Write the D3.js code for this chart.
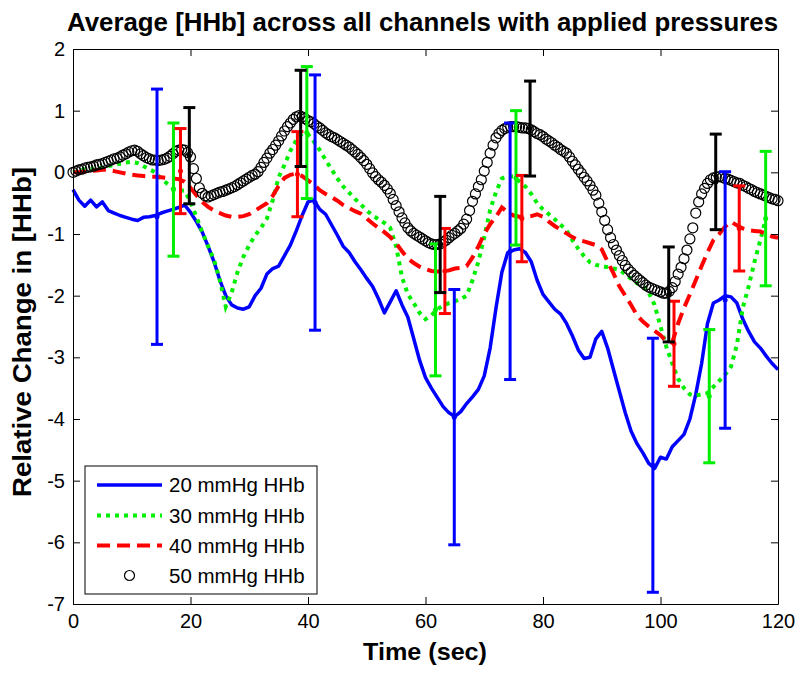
<!DOCTYPE html>
<html>
<head>
<meta charset="utf-8">
<script src="https://cdn.jsdelivr.net/npm/d3@7/dist/d3.min.js"></script>
<style>
  body { margin: 0; background: #fff; }
  text { font-family: "Liberation Sans", Arial, Helvetica, sans-serif; fill: #000; }
</style>
</head>
<body>
<script>
// ---------------- DATA ----------------
const titleText = "Average [HHb] across all channels with applied pressures";
const xLabel = "Time (sec)";
const yLabel = "Relative Change in [HHb]";
const xTicks = [0, 20, 40, 60, 80, 100, 120];
const yTicks = [2, 1, 0, -1, -2, -3, -4, -5, -6, -7];
const seriesNames = ["20 mmHg HHb", "30 mmHg HHb", "40 mmHg HHb", "50 mmHg HHb"];

// line series sampled every 1 s starting at 0 s
const lineStart = 0, lineStep = 1;
const blue20 = [-0.28,-0.45,-0.55,-0.45,-0.56,-0.48,-0.62,-0.66,-0.70,-0.73,
 -0.76,-0.78,-0.73,-0.72,-0.70,-0.66,-0.63,-0.60,-0.57,-0.53,
 -0.65,-0.80,-0.97,-1.20,-1.45,-1.75,-2.00,-2.15,-2.20,-2.22,
 -2.18,-2.00,-1.88,-1.65,-1.56,-1.52,-1.35,-1.18,-0.95,-0.70,
 -0.48,-0.45,-0.60,-0.68,-0.85,-1.02,-1.20,-1.30,-1.45,-1.58,
 -1.72,-1.85,-2.05,-2.28,-2.10,-1.92,-2.15,-2.35,-2.70,-3.05,
 -3.33,-3.50,-3.65,-3.80,-3.90,-3.96,-3.88,-3.75,-3.64,-3.52,
 -3.30,-2.85,-2.20,-1.62,-1.30,-1.26,-1.24,-1.30,-1.45,-1.75,
 -1.98,-2.10,-2.22,-2.30,-2.45,-2.65,-2.88,-3.02,-3.00,-2.70,
 -2.58,-2.85,-3.20,-3.55,-3.90,-4.20,-4.40,-4.55,-4.72,-4.80,
 -4.62,-4.65,-4.45,-4.35,-4.25,-4.00,-3.60,-3.10,-2.45,-2.12,
 -2.07,-2.00,-2.02,-2.12,-2.38,-2.58,-2.75,-2.85,-2.98,-3.10,
 -3.20];
const green30 = [0.00,0.02,0.05,0.05,0.06,0.08,0.10,0.12,0.14,0.16,
 0.17,0.15,0.10,0.05,0.00,-0.10,-0.18,-0.26,-0.29,-0.30,
 -0.48,-0.72,-0.97,-1.20,-1.42,-1.75,-2.18,-1.95,-1.62,-1.37,
 -1.18,-1.02,-0.90,-0.75,-0.45,-0.08,0.12,0.35,0.52,0.63,
 0.62,0.50,0.36,0.20,0.05,-0.10,-0.23,-0.33,-0.43,-0.52,
 -0.62,-0.70,-0.76,-0.82,-0.90,-1.20,-1.70,-1.98,-2.12,-2.28,
 -2.38,-2.32,-2.22,-2.16,-2.12,-2.09,-2.06,-2.00,-1.75,-1.45,
 -1.05,-0.61,-0.32,-0.10,-0.06,-0.07,-0.15,-0.23,-0.35,-0.50,
 -0.60,-0.68,-0.76,-0.85,-0.94,-1.10,-1.24,-1.36,-1.46,-1.50,
 -1.52,-1.54,-1.56,-1.58,-1.65,-1.73,-1.80,-1.84,-1.95,-2.15,
 -2.50,-2.83,-3.10,-3.35,-3.50,-3.60,-3.62,-3.60,-3.58,-3.48,
 -3.38,-3.28,-3.15,-2.80,-2.20,-1.85,-1.45,-1.10,-0.72];
const red40 = [0.00,0.00,0.01,0.02,0.03,0.04,0.04,0.02,0.00,-0.02,
 -0.04,-0.05,-0.06,-0.07,-0.07,-0.08,-0.09,-0.10,-0.11,-0.15,
 -0.25,-0.37,-0.48,-0.56,-0.62,-0.66,-0.70,-0.72,-0.72,-0.71,
 -0.68,-0.62,-0.56,-0.50,-0.38,-0.22,-0.09,-0.04,-0.02,-0.06,
 -0.13,-0.20,-0.29,-0.35,-0.40,-0.46,-0.53,-0.58,-0.63,-0.67,
 -0.75,-0.83,-0.90,-0.97,-1.05,-1.15,-1.28,-1.40,-1.47,-1.53,
 -1.57,-1.60,-1.61,-1.61,-1.59,-1.56,-1.55,-1.52,-1.38,-1.20,
 -1.00,-0.84,-0.72,-0.57,-0.65,-0.70,-0.72,-0.72,-0.71,-0.68,
 -0.72,-0.80,-0.87,-0.93,-0.99,-1.05,-1.10,-1.12,-1.15,-1.18,
 -1.25,-1.45,-1.64,-1.85,-2.00,-2.15,-2.32,-2.42,-2.50,-2.57,
 -2.64,-2.74,-2.76,-2.45,-2.20,-1.98,-1.75,-1.52,-1.30,-1.10,
 -1.00,-0.88,-0.80,-0.86,-0.91,-0.94,-0.95,-0.96,-1.00,-1.04,
 -1.06];

// circle series sampled every 0.5 s starting at 0 s
const circStart = 0, circStep = 0.5;
const black50 = [0.00,0.02,0.04,0.05,0.07,0.08,0.09,0.10,0.12,0.13,
 0.14,0.16,0.18,0.20,0.22,0.23,0.25,0.28,0.30,0.33,
 0.35,0.36,0.34,0.30,0.27,0.24,0.22,0.20,0.20,0.19,
 0.20,0.21,0.23,0.26,0.30,0.34,0.36,0.37,0.36,0.32,
 0.25,0.06,-0.10,-0.25,-0.34,-0.38,-0.40,-0.38,-0.36,-0.34,
 -0.32,-0.31,-0.29,-0.27,-0.25,-0.23,-0.20,-0.17,-0.14,-0.11,
 -0.08,-0.05,-0.03,0.01,0.08,0.16,0.23,0.31,0.37,0.44,
 0.51,0.59,0.67,0.74,0.80,0.86,0.90,0.92,0.90,0.87,
 0.84,0.82,0.79,0.75,0.72,0.68,0.64,0.61,0.58,0.56,
 0.53,0.50,0.47,0.44,0.41,0.37,0.33,0.29,0.24,0.19,
 0.13,0.06,-0.01,-0.07,-0.12,-0.16,-0.21,-0.27,-0.34,-0.44,
 -0.54,-0.64,-0.74,-0.82,-0.90,-0.95,-0.99,-1.02,-1.05,-1.08,
 -1.11,-1.14,-1.16,-1.17,-1.17,-1.16,-1.13,-1.10,-1.06,-1.02,
 -0.99,-0.95,-0.91,-0.84,-0.76,-0.62,-0.47,-0.35,-0.23,-0.12,
 0.02,0.16,0.31,0.44,0.56,0.63,0.68,0.71,0.73,0.74,
 0.74,0.74,0.73,0.72,0.72,0.71,0.69,0.66,0.63,0.61,
 0.58,0.54,0.51,0.48,0.44,0.41,0.37,0.34,0.31,0.25,
 0.18,0.12,0.05,-0.01,-0.08,-0.14,-0.21,-0.29,-0.37,-0.50,
 -0.64,-0.78,-0.93,-1.06,-1.17,-1.26,-1.35,-1.43,-1.51,-1.57,
 -1.62,-1.67,-1.71,-1.75,-1.79,-1.83,-1.86,-1.88,-1.90,-1.92,
 -1.94,-1.96,-1.96,-1.93,-1.87,-1.77,-1.65,-1.54,-1.40,-1.26,
 -1.08,-0.90,-0.66,-0.48,-0.35,-0.26,-0.18,-0.12,-0.09,-0.08,
 -0.07,-0.08,-0.10,-0.11,-0.13,-0.15,-0.17,-0.18,-0.21,-0.23,
 -0.26,-0.28,-0.31,-0.33,-0.35,-0.37,-0.39,-0.41,-0.43,-0.44,
 -0.46];

// error bars: x position, mean, half-length
const blueErrX    = [14.3, 41.2, 64.9, 74.4, 98.7, 111.0];
const blueErrMean = [-0.72, -0.49, -3.97, -1.28, -4.75, -2.07];
const blueErrHalf = [2.07, 2.07, 2.07, 2.08, 2.06, 2.08];
const greenErrX    = [17.1, 39.8, 61.7, 75.4, 108.3, 117.9];
const greenErrMean = [-0.28, 0.645, -2.23, -0.09, -3.63, -0.75];
const greenErrHalf = [1.08, 1.07, 1.07, 1.09, 1.08, 1.09];
const redErrX    = [18.3, 38.2, 63.3, 76.4, 102.3, 113.4];
const redErrMean = [0.02, -0.03, -1.60, -0.75, -2.78, -0.91];
const redErrHalf = [0.69, 0.69, 0.69, 0.70, 0.69, 0.69];
const blackErrX    = [19.8, 38.75, 62.5, 77.8, 101.4, 109.4];
const blackErrMean = [0.27, 0.875, -1.17, 0.71, -1.98, -0.155];
const blackErrHalf = [0.78, 0.78, 0.78, 0.77, 0.77, 0.775];

// ---------------- DRAW ----------------
const W = 800, H = 677;
const svg = d3.select("body").append("svg").attr("width", W).attr("height", H);

const x = d3.scaleLinear().domain([0, 120]).range([73, 778]);
const y = d3.scaleLinear().domain([-7, 2]).range([604, 49]);

const toPts = (vals, start, step) => vals.map((v, i) => ({ t: start + i * step, v }));

const colors = { blue: "#0000ff", green: "#00ee00", red: "#ff0000", black: "#000000" };

const line = d3.line().x(d => x(d.t)).y(d => y(d.v));

const plot = svg.append("g");

plot.append("path").datum(toPts(blue20, lineStart, lineStep))
  .attr("d", line).attr("fill", "none").attr("stroke", colors.blue)
  .attr("stroke-width", 3.5).attr("stroke-linejoin", "round");

plot.append("path").datum(toPts(green30, lineStart, lineStep))
  .attr("d", line).attr("fill", "none").attr("stroke", colors.green)
  .attr("stroke-width", 4).attr("stroke-dasharray", "4,5");

plot.append("path").datum(toPts(red40, lineStart, lineStep))
  .attr("d", line).attr("fill", "none").attr("stroke", colors.red)
  .attr("stroke-width", 4).attr("stroke-dasharray", "13,7");

plot.append("g").selectAll("circle").data(toPts(black50, circStart, circStep))
  .join("circle")
  .attr("cx", d => x(d.t)).attr("cy", d => y(d.v)).attr("r", 5)
  .attr("fill", "none").attr("stroke", "#000").attr("stroke-width", 1.2);

function errorBars(xs, means, halfs, color) {
  const data = xs.map((t, i) => ({ t, m: means[i], h: halfs[i] }));
  const g = plot.append("g").attr("stroke", color).attr("stroke-width", 3).attr("fill", color);
  const cap = 6;
  g.selectAll(".v").data(data).join("line")
    .attr("x1", d => x(d.t)).attr("x2", d => x(d.t))
    .attr("y1", d => y(d.m + d.h)).attr("y2", d => y(d.m - d.h));
  g.selectAll(".top").data(data).join("line")
    .attr("x1", d => x(d.t) - cap).attr("x2", d => x(d.t) + cap)
    .attr("y1", d => y(d.m + d.h)).attr("y2", d => y(d.m + d.h));
  g.selectAll(".bot").data(data).join("line")
    .attr("x1", d => x(d.t) - cap).attr("x2", d => x(d.t) + cap)
    .attr("y1", d => y(d.m - d.h)).attr("y2", d => y(d.m - d.h));
  g.selectAll("circle").data(data).join("circle")
    .attr("cx", d => x(d.t)).attr("cy", d => y(d.m)).attr("r", 2.5).attr("stroke", "none");
}
errorBars(blueErrX, blueErrMean, blueErrHalf, colors.blue);
errorBars(greenErrX, greenErrMean, greenErrHalf, colors.green);
errorBars(redErrX, redErrMean, redErrHalf, colors.red);
errorBars(blackErrX, blackErrMean, blackErrHalf, colors.black);

// ---------------- AXES ----------------
const tickLen = 7;
const fmt = d => String(d);
const axB = svg.append("g").attr("transform", `translate(0,${y(-7)})`)
  .call(d3.axisBottom(x).tickValues(xTicks).tickFormat(fmt).tickSizeInner(-tickLen).tickSizeOuter(0).tickPadding(10));
const axT = svg.append("g").attr("transform", `translate(0,${y(2)})`)
  .call(d3.axisTop(x).tickValues(xTicks).tickFormat("").tickSizeInner(-tickLen).tickSizeOuter(0));
const axL = svg.append("g").attr("transform", `translate(${x(0)},0)`)
  .call(d3.axisLeft(y).tickValues(yTicks).tickFormat(fmt).tickSizeInner(-tickLen).tickSizeOuter(0).tickPadding(8));
const axR = svg.append("g").attr("transform", `translate(${x(120)},0)`)
  .call(d3.axisRight(y).tickValues(yTicks).tickFormat("").tickSizeInner(-tickLen).tickSizeOuter(0));

[axB, axT, axL, axR].forEach(a => {
  a.selectAll("path,line").attr("stroke", "#000").attr("stroke-width", 1);
  a.selectAll("text").attr("font-size", 20).attr("fill", "#000")
    .style("font-family", '"Liberation Sans", Arial, sans-serif');
});
// hide the tick marks at the box corners (MATLAB draws box edges there)
// ---------------- LEGEND ----------------
const lg = svg.append("g");
lg.append("rect").attr("x", 85).attr("y", 466).attr("width", 232).attr("height", 128)
  .attr("fill", "#fff").attr("stroke", "#000").attr("stroke-width", 1);
const rowY = [485, 515.5, 545.5, 575.5];
const lx1 = 97, lx2 = 162;
lg.append("line").attr("x1", lx1).attr("x2", lx2).attr("y1", rowY[0]).attr("y2", rowY[0])
  .attr("stroke", colors.blue).attr("stroke-width", 3.5);
lg.append("line").attr("x1", lx1).attr("x2", lx2).attr("y1", rowY[1]).attr("y2", rowY[1])
  .attr("stroke", colors.green).attr("stroke-width", 4).attr("stroke-dasharray", "4,5");
lg.append("line").attr("x1", lx1).attr("x2", lx2).attr("y1", rowY[2]).attr("y2", rowY[2])
  .attr("stroke", colors.red).attr("stroke-width", 4).attr("stroke-dasharray", "13,7");
lg.append("circle").attr("cx", (lx1 + lx2) / 2).attr("cy", rowY[3]).attr("r", 5)
  .attr("fill", "none").attr("stroke", "#000").attr("stroke-width", 1.2);
lg.selectAll("text.lt").data(seriesNames).join("text")
  .attr("x", 169).attr("y", (d, i) => rowY[i]).attr("dy", "0.35em")
  .attr("font-size", 20.5).text(d => d);

// ---------------- TITLES ----------------
svg.append("text").attr("x", 422.5).attr("y", 31).attr("text-anchor", "middle")
  .attr("font-size", 25).attr("font-weight", "bold")
  .attr("textLength", 711).attr("lengthAdjust", "spacingAndGlyphs").text(titleText);
svg.append("text").attr("x", 425).attr("y", 660).attr("text-anchor", "middle")
  .attr("font-size", 24).attr("font-weight", "bold")
  .attr("textLength", 124).attr("lengthAdjust", "spacingAndGlyphs").text(xLabel);
svg.append("text").attr("transform", "translate(31,332) rotate(-90)").attr("text-anchor", "middle")
  .attr("font-size", 26).attr("font-weight", "bold")
  .attr("textLength", 330).attr("lengthAdjust", "spacingAndGlyphs").text(yLabel);
</script>
</body>
</html>
